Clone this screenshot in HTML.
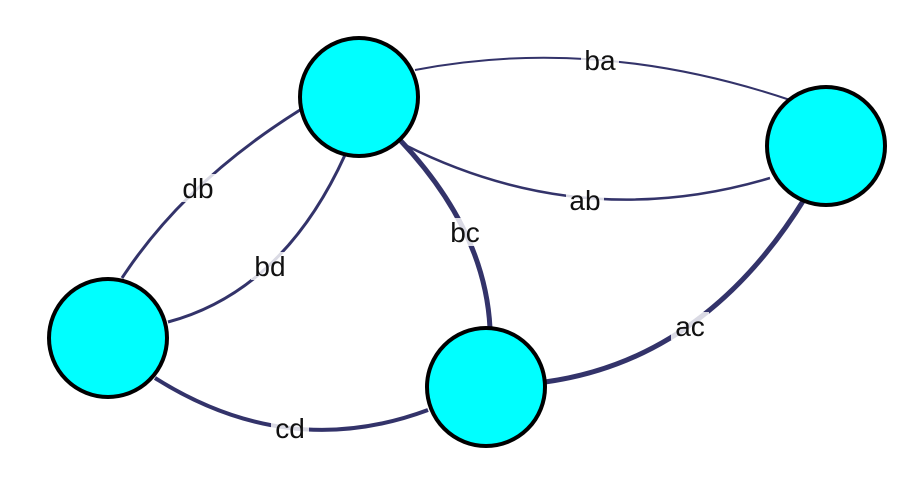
<!DOCTYPE html>
<html><head><style>html,body{margin:0;padding:0;background:#fff;}</style></head>
<body>
<svg width="910" height="498" xmlns="http://www.w3.org/2000/svg" font-family="Liberation Sans, sans-serif" font-size="28">
<g fill="none" stroke="#33336a">
<path d="M415,70 Q597,35 790,100" stroke-width="2"/>
<path d="M405,145 Q582,234 770,178" stroke-width="2.5"/>
<path d="M400,140 Q485,230 490,328" stroke-width="5"/>
<path d="M122,278 Q185,182 300,110" stroke-width="3"/>
<path d="M168,322 Q283,291 345,155" stroke-width="3"/>
<path d="M155,378 Q288,462 428,410" stroke-width="4"/>
<path d="M545,382 Q705,360 805,198" stroke-width="5"/>
</g>
<g fill="#fff" fill-opacity="0.82">
<rect x="581" y="46" width="38" height="28"/>
<rect x="566" y="186" width="38" height="28"/>
<rect x="446" y="218" width="38" height="28"/>
<rect x="179" y="174" width="38" height="28"/>
<rect x="251" y="252" width="38" height="28"/>
<rect x="271" y="414" width="38" height="28"/>
<rect x="671" y="312" width="38" height="28"/>
</g>
<g fill="#111" text-anchor="middle">
<text x="600" y="70">ba</text>
<text x="585" y="210">ab</text>
<text x="465" y="242">bc</text>
<text x="198" y="198">db</text>
<text x="270" y="276">bd</text>
<text x="290" y="438">cd</text>
<text x="690" y="336">ac</text>
</g>
<g fill="#00ffff" stroke="#000" stroke-width="4">
<circle cx="359" cy="97" r="59"/>
<circle cx="826" cy="146" r="59"/>
<circle cx="108" cy="338" r="59"/>
<circle cx="486" cy="387" r="59"/>
</g>
</svg>
</body></html>
